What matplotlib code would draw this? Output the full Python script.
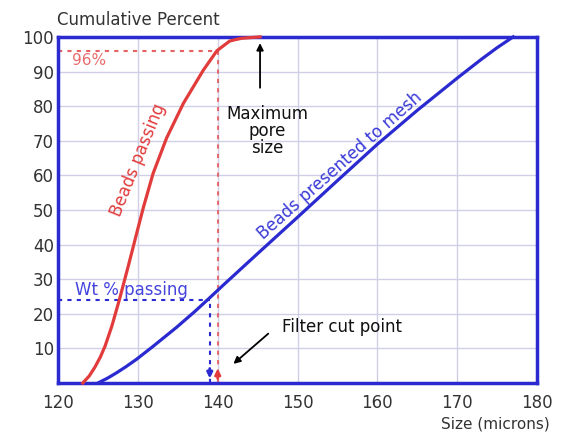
import numpy as np
import matplotlib
matplotlib.use("Agg")
import matplotlib.pyplot as plt

plt.rcParams['font.family'] = ['DejaVu Sans']

# --- datos ---
size_passing = [123.1, 123.9, 124.6, 125.3, 125.9, 126.75, 127.7, 128.8, 129.8,
                130.7, 131.9, 133.6, 135.7, 138.2, 139.9, 141.5, 142.2, 143.0, 145.3]
pct_passing = [0, 2, 4.5, 7.5, 10.7, 16.5, 24.2, 33.8, 42.8,
               50.8, 60.5, 70.8, 80.8, 90.4, 96.0, 98.8, 99.2, 99.6, 100]

size_mesh = [125.0, 126.2, 127.3, 128.5, 129.8, 131.8, 134.8, 137.1, 138.8,
             140.7, 145.0, 150.0, 155.0, 160.0, 165.0, 170.0, 173.0, 175.0, 177.0]
pct_mesh = [0, 1.4, 2.9, 4.7, 6.8, 10.4, 16.0, 20.6, 24.2,
            28.3, 37.4, 47.9, 58.5, 69.0, 78.8, 88.1, 93.5, 96.9, 100]

x_ticks = [120, 130, 140, 150, 160, 170, 180]
y_ticks = [10, 20, 30, 40, 50, 60, 70, 80, 90, 100]

corte_rojo = 140.0   # tamaño para 96 %
pct_rojo = 96
corte_azul = 139.0   # tamaño para Wt % passing
pct_azul = 24

ROJO = '#e23b3b'
AZUL = '#2a2ad0'
GRILLA = '#cfcfe6'
TEXTO = '#333333'

fig = plt.figure(figsize=(5.66, 4.34), dpi=100)
ax = fig.add_axes([0.1025, 0.1175, 0.8465, 0.7975])

ax.set_xlim(120, 180)
ax.set_ylim(0, 100)
ax.set_xticks(x_ticks)
ax.set_yticks(y_ticks)
ax.tick_params(length=0, labelsize=12, labelcolor=TEXTO)
ax.tick_params(axis='x', pad=8)
ax.tick_params(axis='y', pad=3)
ax.grid(True, color=GRILLA, linewidth=1.0)
ax.set_axisbelow(True)
for s in ax.spines.values():
    s.set_color(AZUL)
    s.set_linewidth(2.5)

# curvas
ax.plot(size_passing, pct_passing, color=ROJO, lw=2.3, zorder=3, clip_on=False,
        solid_joinstyle='round')
ax.plot(size_mesh, pct_mesh, color=AZUL, lw=2.3, zorder=3, clip_on=False,
        solid_joinstyle='round')

# lineas punteadas de referencia
ax.plot([120, corte_rojo], [pct_rojo, pct_rojo], ls=(0, (2, 2.5)), color=ROJO, lw=1.5, alpha=0.8)
ax.plot([corte_rojo, corte_rojo], [0, pct_rojo], ls=(0, (2, 2.5)), color=ROJO, lw=1.5, alpha=0.7)
ax.plot([120, corte_azul], [pct_azul, pct_azul], ls=(0, (2, 2.5)), color=AZUL, lw=1.5)
ax.plot([corte_azul, corte_azul], [0, pct_azul], ls=(0, (2, 2.5)), color=AZUL, lw=1.5)

# flechitas en el eje x
ax.annotate('', xy=(corte_azul, 0.5), xytext=(corte_azul, 5.0),
            arrowprops=dict(arrowstyle='-|>', color=AZUL, lw=2, mutation_scale=8))
ax.annotate('', xy=(corte_rojo, 5.0), xytext=(corte_rojo, 0.5),
            arrowprops=dict(arrowstyle='-|>', color=ROJO, lw=2, mutation_scale=8))

# textos
ax.text(121.8, 93.3, '96%', color=ROJO, fontsize=11, alpha=0.75, va='center')
ax.text(122.1, 27.0, 'Wt % passing', color='#4545dd', fontsize=12, va='center')
ax.text(130.0, 64.5, 'Beads passing', color=ROJO, fontsize=12, rotation=68,
        ha='center', va='center')
ax.text(155.25, 62.7, 'Beads presented to mesh', color='#3a3ad8', fontsize=12,
        rotation=41.5, ha='center', va='center')

ax.annotate('', xy=(145.3, 99.0), xytext=(145.3, 84.5),
            arrowprops=dict(arrowstyle='-|>', color='black', lw=1.3, mutation_scale=10))
ax.text(146.2, 72.8, 'Maximum\npore\nsize', ha='center', va='center', fontsize=12,
        color='#111111', linespacing=0.95)

ax.annotate('', xy=(141.7, 5.0), xytext=(146.6, 14.8),
            arrowprops=dict(arrowstyle='-|>', color='black', lw=1.3, mutation_scale=10))
ax.text(148.1, 16.2, 'Filter cut point', fontsize=12, color='#111111', va='center')

fig.text(57 / 566, 1 - 20 / 434, 'Cumulative Percent', fontsize=12, color=TEXTO,
         va='center')
fig.text(550 / 566, 1 - 424 / 434, 'Size (microns)', fontsize=11, color=TEXTO,
         va='center', ha='right')

fig.savefig('out.png', dpi=100)
